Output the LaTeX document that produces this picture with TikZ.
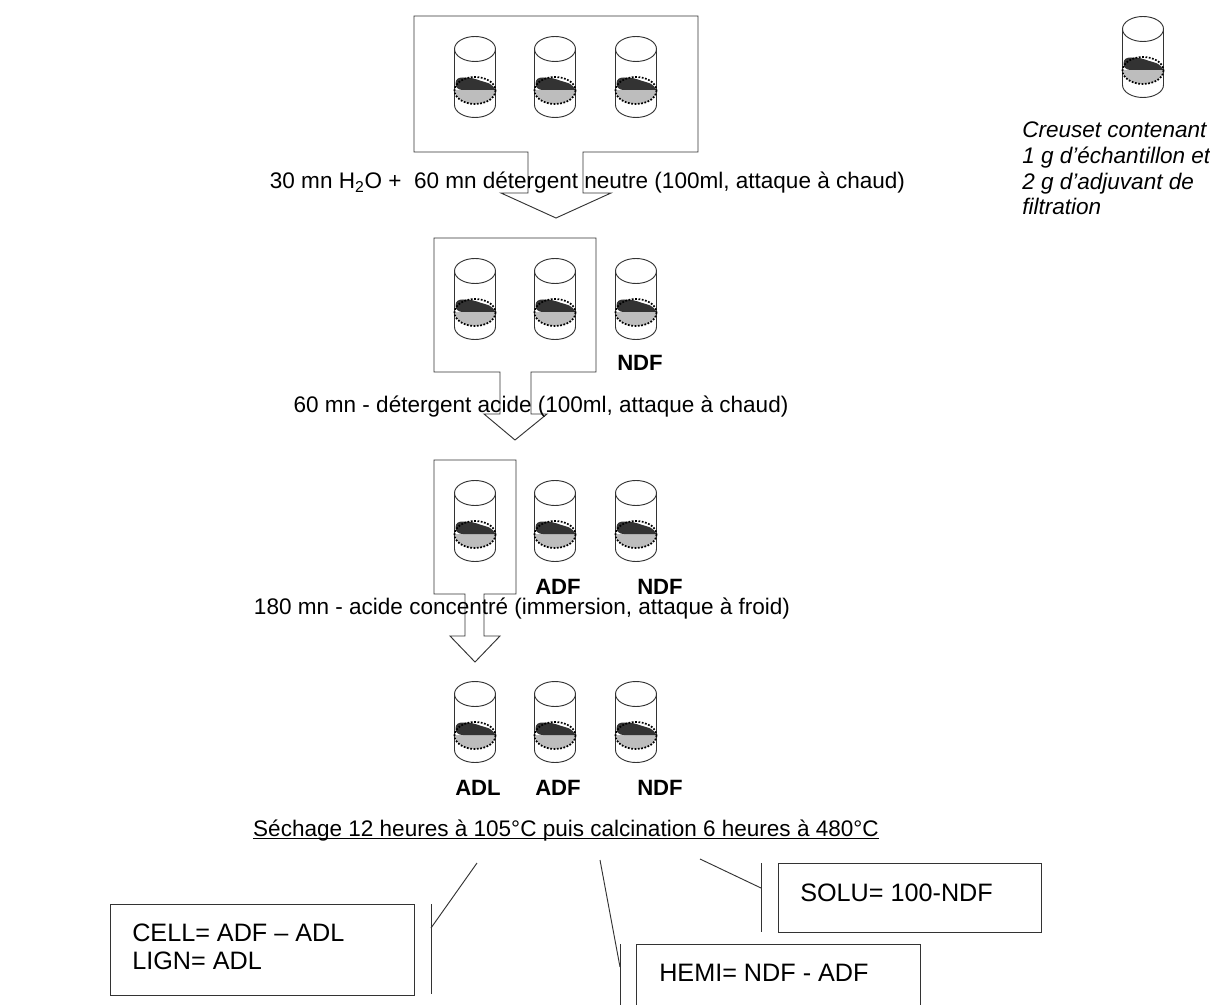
\documentclass[tikz,border=0pt]{standalone}
\usepackage{fontspec}
\setmainfont{Liberation Sans}

\definecolor{trait}{gray}{0.2}
\definecolor{gris}{gray}{0.74}
\definecolor{sombre}{gray}{0.2}

\tikzset{
  trait/.style={draw=trait,line width=0.7pt},
  etape/.style={inner sep=0pt,anchor=base,font=\fontsize{16.9}{20}\selectfont},
  code/.style={inner sep=0pt,anchor=base,font=\bfseries\fontsize{16.6}{20}\selectfont},
  resultat/.style={inner sep=0pt,anchor=base west,align=left,font=\fontsize{18.9}{21}\selectfont},
  legende/.style={inner sep=0pt,anchor=base west,align=left,font=\itshape\fontsize{16.9}{19.3}\selectfont},
  pics/creuset/.style={code={
    \fill[gris] (-20.5,90) arc[start angle=180,end angle=0,x radius=20.5,y radius=14] -- cycle;
    \fill[sombre] (-19.5,84) .. controls (-19.5,79) and (-17,77.5) .. (-12,77.5)
      .. controls (-5,77.5) and (-2,78) .. (2,79.5)
      .. controls (6,81) and (10,82) .. (13,83)
      .. controls (16,84) and (19,87) .. (20.5,90) -- (-12,90)
      .. controls (-16,90) and (-19.5,88) .. (-19.5,84) -- cycle;
    \draw[trait] (0,49) circle[x radius=20.5,y radius=12.5];
    \draw[trait] (-20.5,49) -- (-20.5,105) arc[start angle=180,end angle=0,x radius=20.5,y radius=12.5] -- (20.5,49);
    \draw[black,line width=1.3pt,dash pattern=on 1.3pt off 1.2pt] (0,90.5) circle[x radius=20.5,y radius=13.5];
  }}
}

\begin{document}
\begin{tikzpicture}[x=0.75pt,y=-0.75pt]

\useasboundingbox (0,0) rectangle (1210,1005);

% creusets
\foreach \colonne/\ligne in {475/0,555/0,636/0,475/222,555/222,636/222,475/444,555/444,636/444,475/645,555/645,636/645,1143/-20}
  \pic at (\colonne,\ligne) {creuset};

% fleches
\draw[trait] (414,16) -- (698,16) -- (698,152) -- (583,152) -- (583,193) -- (611,193)
  -- (556,218) -- (501,193) -- (528,193) -- (528,152) -- (414,152) -- cycle;
\draw[trait] (434,238) -- (596,238) -- (596,372) -- (531,372) -- (531,414) -- (547,414)
  -- (515,440) -- (484,414) -- (500,414) -- (500,372) -- (434,372) -- cycle;
\draw[trait] (434,460) -- (516,460) -- (516,594) -- (484,594) -- (484,636) -- (500,636)
  -- (475,662) -- (450,636) -- (465,636) -- (465,594) -- (434,594) -- cycle;

% textes des etapes
\node[etape] (neutre) at (587.5,189) {30 mn H\textsubscript{2}O +\ \ 60 mn détergent neutre (100ml, attaque à chaud)};
\node[etape] (acide) at (541,412) {60 mn - détergent acide (100ml, attaque à chaud)};
\node[etape] (froid) at (522,614) {180 mn - acide concentré (immersion, attaque à froid)};
\node[etape] (sechage) at (566,836) {Séchage 12 heures à 105°C puis calcination 6 heures à 480°C};
\draw[black,line width=0.9pt] ([yshift=-2pt]sechage.base west) -- ([yshift=-2pt]sechage.base east);

\node[code] (ndfa) at (640,371) {NDF};
\node[code] (adfa) at (558,594) {ADF};
\node[code] (ndfb) at (660,594) {NDF};
\node[code] (adl) at (478,795) {ADL};
\node[code] (adfb) at (558,795) {ADF};
\node[code] (ndfc) at (660,795) {NDF};

\node[legende] (note) at (1022,215) {Creuset contenant\\1 g d’échantillon et\\2 g d’adjuvant de\\filtration};

% resultats
\draw[trait] (110,904) rectangle (414,995);
\draw[trait] (778,863) rectangle (1041,932);
\draw[trait] (636,1006) -- (636,944) -- (920,944) -- (920,1006);
\node[resultat] (cell) at (132,969) {CELL= ADF – ADL\\LIGN= ADL};
\node[resultat] (hemi) at (659,981) {HEMI= NDF - ADF};
\node[resultat] (solu) at (800,901) {SOLU= 100-NDF};

% accolades
\coordinate (cellhaut) at (431,904);
\coordinate (cellbas) at (431,994);
\coordinate (cellmil) at (431,928);
\coordinate (celldep) at (477,863);
\coordinate (hemihaut) at (620,944);
\coordinate (hemibas) at (620,1006);
\coordinate (hemimil) at (620,967);
\coordinate (hemidep) at (600,860);
\coordinate (soluhaut) at (761,863);
\coordinate (solubas) at (761,932);
\coordinate (solumil) at (761,888);
\coordinate (soludep) at (700,859);
\draw[trait] (cellhaut) -- (cellbas);
\draw[trait] (celldep) -- (cellmil);
\draw[trait] (hemihaut) -- (hemibas);
\draw[trait] (hemidep) -- (hemimil);
\draw[trait] (soluhaut) -- (solubas);
\draw[trait] (soludep) -- (solumil);

\end{tikzpicture}
\end{document}
